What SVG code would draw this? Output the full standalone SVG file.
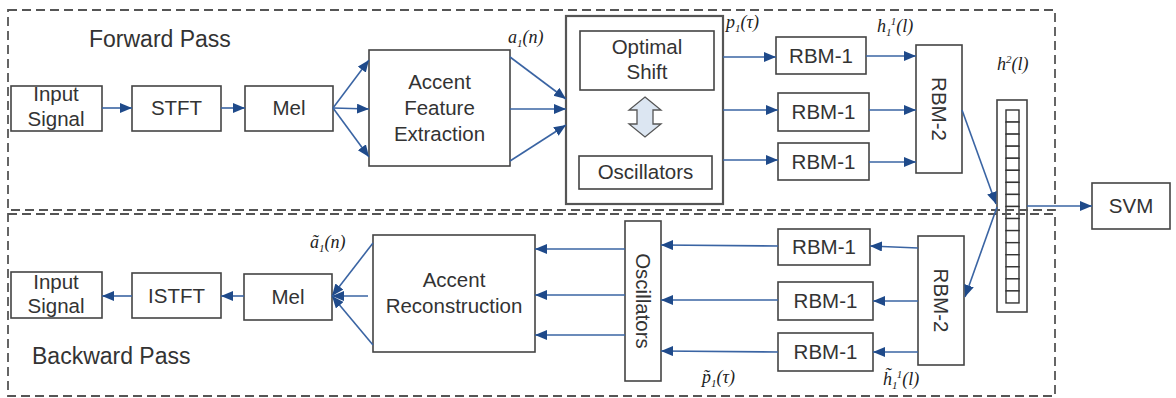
<svg xmlns="http://www.w3.org/2000/svg" width="1176" height="398" viewBox="0 0 1176 398">
<style>
.box{fill:#fff;stroke:#444;stroke-width:1.6}
.big{fill:#fff;stroke:#555;stroke-width:2.2}
.t{font-family:"Liberation Sans",Arial,sans-serif;font-size:20.5px;fill:#333;text-anchor:middle}
.h{font-family:"Liberation Sans",Arial,sans-serif;font-size:23px;fill:#333}
.m{font-family:"Liberation Serif","Times New Roman",serif;font-style:italic;font-size:18px;fill:#222}
.c{fill:none;stroke:#3a64a3;stroke-width:1.6}
.dash{fill:none;stroke:#555;stroke-width:1.8;stroke-dasharray:9 5}
</style>
<defs>
<marker id="ah" markerUnits="userSpaceOnUse" markerWidth="14" markerHeight="12" refX="12" refY="5" orient="auto">
<path d="M0,0 L12,5 L0,10 z" fill="#1f4a8a"/>
</marker>
</defs>
<rect width="1176" height="398" fill="#fff"/>

<g id="f-input"><rect class="box" x="11" y="86" width="91" height="45"/><text class="t" x="56" y="101">Input</text><text class="t" x="56" y="126">Signal</text></g>
<g id="f-stft"><rect class="box" x="132" y="86" width="89" height="45"/><text class="t" x="176.5" y="115">STFT</text></g>
<g id="f-mel"><rect class="box" x="245" y="86" width="88" height="45"/><text class="t" x="289" y="115">Mel</text></g>
<g id="f-accent"><rect class="box" x="369" y="50" width="141" height="116"/><text class="t" x="439.5" y="89">Accent</text><text class="t" x="439.5" y="115">Feature</text><text class="t" x="439.5" y="141">Extraction</text></g>
<g id="f-osc-group">
<rect class="big" x="566" y="16" width="157" height="188"/>
<rect class="box" x="580" y="31" width="134" height="59"/><text class="t" x="647" y="54">Optimal</text><text class="t" x="647" y="79">Shift</text>
<polygon points="645,97 661,110 653,110 653,124 661,124 645,137 629,124 637,124 637,110 629,110" fill="#dce6f2" stroke="#555" stroke-width="1.3"/>
<rect class="box" x="579" y="156" width="133" height="33"/><text class="t" x="645.5" y="179">Oscillators</text>
</g>
<g id="f-rbm1a"><rect class="box" x="776" y="37" width="90" height="37"/><text class="t" x="821" y="63">RBM-1</text></g>
<g id="f-rbm1b"><rect class="box" x="778" y="93" width="91" height="38"/><text class="t" x="823.5" y="119">RBM-1</text></g>
<g id="f-rbm1c"><rect class="box" x="778" y="143" width="91" height="37"/><text class="t" x="823.5" y="169">RBM-1</text></g>
<g id="f-rbm2"><rect class="box" x="916" y="45" width="46" height="128"/><text class="t" transform="translate(939 109) rotate(90)" dominant-baseline="central">RBM-2</text></g>

<g id="vector">
<rect class="box" x="997" y="100" width="30" height="212"/>
<g fill="#fff" stroke="#333" stroke-width="1.4">
<rect x="1006" y="110" width="13" height="12.06"/><rect x="1006" y="122.06" width="13" height="12.06"/><rect x="1006" y="134.12" width="13" height="12.06"/><rect x="1006" y="146.18" width="13" height="12.06"/>
<rect x="1006" y="158.24" width="13" height="12.06"/><rect x="1006" y="170.3" width="13" height="12.06"/><rect x="1006" y="182.36" width="13" height="12.06"/><rect x="1006" y="194.42" width="13" height="12.06"/>
<rect x="1006" y="206.48" width="13" height="12.06"/><rect x="1006" y="218.54" width="13" height="12.06"/><rect x="1006" y="230.6" width="13" height="12.06"/><rect x="1006" y="242.66" width="13" height="12.06"/>
<rect x="1006" y="254.72" width="13" height="12.06"/><rect x="1006" y="266.78" width="13" height="12.06"/><rect x="1006" y="278.84" width="13" height="12.06"/><rect x="1006" y="290.9" width="13" height="12.06"/>
</g>
</g>
<g id="svm"><rect class="box" x="1092" y="183" width="78" height="46"/><text class="t" x="1131" y="213">SVM</text></g>

<g id="b-input"><rect class="box" x="11" y="272" width="91" height="46"/><text class="t" x="56" y="289">Input</text><text class="t" x="56" y="313">Signal</text></g>
<g id="b-istft"><rect class="box" x="132" y="273" width="89" height="45"/><text class="t" x="176.5" y="303">ISTFT</text></g>
<g id="b-mel"><rect class="box" x="244" y="274" width="88" height="46"/><text class="t" x="288" y="304">Mel</text></g>
<g id="b-accent"><rect class="box" x="373" y="235" width="162" height="117"/><text class="t" x="454" y="287">Accent</text><text class="t" x="454" y="313">Reconstruction</text></g>
<g id="b-osc"><rect class="box" x="625" y="221" width="36" height="160"/><text class="t" transform="translate(643 301) rotate(90)" dominant-baseline="central">Oscillators</text></g>
<g id="b-rbm1a"><rect class="box" x="778" y="229" width="92" height="36"/><text class="t" x="824" y="254">RBM-1</text></g>
<g id="b-rbm1b"><rect class="box" x="778" y="282" width="95" height="38"/><text class="t" x="825.5" y="308">RBM-1</text></g>
<g id="b-rbm1c"><rect class="box" x="778" y="333" width="95" height="38"/><text class="t" x="825.5" y="359">RBM-1</text></g>
<g id="b-rbm2"><rect class="box" x="918" y="236" width="46" height="129"/><text class="t" transform="translate(941 300.5) rotate(90)" dominant-baseline="central">RBM-2</text></g>

<g id="frames">
<rect class="dash" x="8" y="10" width="1047" height="200"/>
<rect class="dash" x="8" y="214" width="1047" height="182"/>
<text class="h" x="89" y="47">Forward Pass</text>
<text class="h" x="32" y="364">Backward Pass</text>
</g>

<g id="labels">
<text class="m" x="508" y="43">a<tspan font-size="11" dy="4">1</tspan><tspan dy="-4">(n)</tspan></text>
<text class="m" x="726" y="28">p<tspan font-size="11" dy="4">1</tspan><tspan dy="-4">(τ)</tspan></text>
<text class="m" x="877" y="32">h<tspan font-size="11" dy="4">1</tspan><tspan font-size="11" dy="-11">1</tspan><tspan dy="7">(l)</tspan></text>
<text class="m" x="997" y="70">h<tspan font-size="11" dy="-7">2</tspan><tspan dy="7">(l)</tspan></text>
<text class="m" x="310" y="248">ã<tspan font-size="11" dy="4">1</tspan><tspan dy="-4">(n)</tspan></text>
<text class="m" x="702" y="383">p̃<tspan font-size="11" dy="4">1</tspan><tspan dy="-4">(τ)</tspan></text>
<text class="m" x="883" y="385">h̃<tspan font-size="11" dy="4">1</tspan><tspan font-size="11" dy="-11">1</tspan><tspan dy="7">(l)</tspan></text>
</g>

<g id="connectors">
<line class="c" x1="102" y1="108" x2="132" y2="108" marker-end="url(#ah)"/>
<line class="c" x1="221" y1="108" x2="245" y2="108" marker-end="url(#ah)"/>
<line class="c" x1="333" y1="108" x2="369" y2="60" marker-end="url(#ah)"/>
<line class="c" x1="333" y1="108" x2="369" y2="109" marker-end="url(#ah)"/>
<line class="c" x1="333" y1="108" x2="369" y2="157" marker-end="url(#ah)"/>
<line class="c" x1="510" y1="57" x2="566" y2="99" marker-end="url(#ah)"/>
<line class="c" x1="510" y1="109" x2="566" y2="109" marker-end="url(#ah)"/>
<line class="c" x1="510" y1="161" x2="566" y2="125" marker-end="url(#ah)"/>
<line class="c" x1="723" y1="57" x2="776" y2="57" marker-end="url(#ah)"/>
<line class="c" x1="723" y1="110" x2="778" y2="110" marker-end="url(#ah)"/>
<line class="c" x1="723" y1="160" x2="778" y2="160" marker-end="url(#ah)"/>
<line class="c" x1="866" y1="56" x2="916" y2="56" marker-end="url(#ah)"/>
<line class="c" x1="869" y1="110" x2="916" y2="110" marker-end="url(#ah)"/>
<line class="c" x1="869" y1="162" x2="916" y2="162" marker-end="url(#ah)"/>
<line class="c" x1="962" y1="110" x2="996" y2="204" marker-end="url(#ah)"/>
<line class="c" x1="997" y1="207" x2="965" y2="297" marker-end="url(#ah)"/>
<line class="c" x1="1027" y1="206" x2="1092" y2="206" marker-end="url(#ah)"/>
<line class="c" x1="918" y1="248" x2="870" y2="246" marker-end="url(#ah)"/>
<line class="c" x1="918" y1="301" x2="873" y2="301" marker-end="url(#ah)"/>
<line class="c" x1="918" y1="352" x2="873" y2="352" marker-end="url(#ah)"/>
<line class="c" x1="778" y1="246" x2="661" y2="245" marker-end="url(#ah)"/>
<line class="c" x1="778" y1="300" x2="661" y2="300" marker-end="url(#ah)"/>
<line class="c" x1="778" y1="352" x2="661" y2="351" marker-end="url(#ah)"/>
<line class="c" x1="625" y1="249" x2="535" y2="249" marker-end="url(#ah)"/>
<line class="c" x1="625" y1="295" x2="535" y2="295" marker-end="url(#ah)"/>
<line class="c" x1="625" y1="335" x2="535" y2="335" marker-end="url(#ah)"/>
<line class="c" x1="373" y1="243" x2="332" y2="296" marker-end="url(#ah)"/>
<line class="c" x1="368" y1="296" x2="332" y2="296" marker-end="url(#ah)"/>
<line class="c" x1="373" y1="345" x2="332" y2="296" marker-end="url(#ah)"/>
<line class="c" x1="244" y1="296" x2="221" y2="296" marker-end="url(#ah)"/>
<line class="c" x1="132" y1="296" x2="102" y2="296" marker-end="url(#ah)"/>
</g>
</svg>
